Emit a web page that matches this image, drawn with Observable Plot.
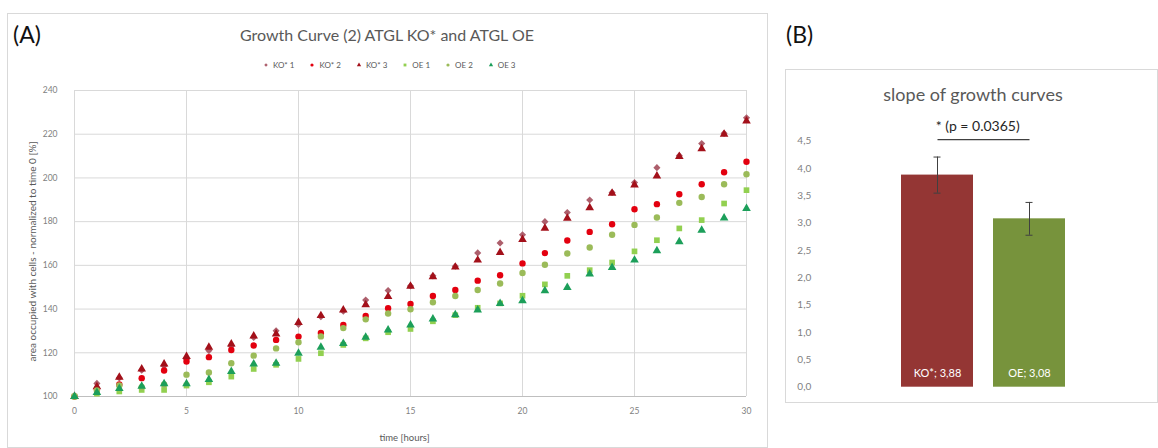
<!DOCTYPE html>
<html>
<head>
<meta charset="utf-8">
<script src="https://cdn.jsdelivr.net/npm/d3@7"></script>
<script src="https://cdn.jsdelivr.net/npm/@observablehq/plot@0.6"></script>
<style>
  html, body { margin: 0; padding: 0; background: #fff; }
  #root { position: relative; width: 1158px; height: 448px; overflow: hidden; background: #fff; font-family: Lato, "Open Sans", sans-serif; }
  .box { position: absolute; border: 1px solid #d9d9d9; box-sizing: border-box; }
  .panel { position: absolute; font-size: 23px; color: #111; line-height: 1; }
  .ttl { position: absolute; color: #595959; white-space: nowrap; transform: translateX(-50%); line-height: 1; }
  .lg-swatch { margin-right: 14px !important; }
  .lg-swatch > svg { margin-right: 3px !important; }
</style>
</head>
<body>
<div id="root">
  <div class="box" style="left:7px;top:13px;width:761px;height:435px;"></div>
  <div class="box" style="left:785px;top:69px;width:373px;height:334px;"></div>
  <div class="panel" style="left:13px;top:23px;">(A)</div>
  <div class="panel" style="left:786px;top:23px;">(B)</div>
  <div class="ttl" id="titleA" style="left:387px;top:27px;font-size:16px;"></div>
  <div class="ttl" id="titleB" style="left:973px;top:85px;font-size:18px;"></div>
</div>
<script>
// ---------- Panel A data ----------
const titleA = "Growth Curve (2) ATGL KO* and ATGL OE";
const xTitle = "time [hours]";
const yTitle = "area occupied with cells - normalized to time 0 [%]";
const hours = [0,1,2,3,4,5,6,7,8,9,10,11,12,13,14,15,16,17,18,19,20,21,22,23,24,25,26,27,28,29,30];
const xTicks = [0,5,10,15,20,25,30];
const yTicks = [100,120,140,160,180,200,220,240];
const seriesNames = ["KO* 1","KO* 2","KO* 3","OE 1","OE 2","OE 3"];
const seriesColors = ["#ad5f6c","#e3000f","#a3101a","#92d050","#9bbb59","#1c9f5a"];
const seriesSymbols = ["diamond2","circle","triangle","square","circle","triangle"];
const ko1 = [100,106,108.5,112,114,117,121,123,127,130.1,133,136.5,139,144.1,148.5,150.6,155.2,159.6,165.7,170.2,174,180,184.2,189.9,193.3,197.9,204.7,210.2,215.7,220.4,227.5];
const ko2 = [100,103.5,105.5,108.4,111.9,116,118,121.3,123.3,125.9,127.4,129.1,132.7,136.8,140.4,142.3,146,148.7,153,155.5,160.9,165.6,171.4,175.3,178.8,185.7,188,192.5,197.1,202.6,207.4];
const ko3 = [100,104.5,108.8,112.6,114.9,118.3,122.5,124,127.7,128.6,133.9,137,139.6,142,145.7,150.4,154.8,159.2,162.4,165.9,171.8,177,181.6,186.4,193,196.8,200.9,209.8,213.4,220,226];
const oe1 = [100,101.3,102.3,103,103,105,106.5,109.1,112.6,114.5,117.2,119.8,123.6,126.6,129.4,130.9,134.4,137.2,140.6,142.6,146.1,151.3,155.2,157.8,161.3,166.4,171.5,176.9,180.7,188.3,194.4];
const oe2 = [100,102.8,105,104.3,105.5,110,111,115.2,118.7,122,124.8,127.5,131.3,135.3,138,139.9,143.1,146,148.7,151.7,156.5,160.3,165.4,168.2,174,178.5,181.9,188.6,191.3,197.1,201.7];
const oe3 = [100,101.8,103.6,104.7,105.8,105.8,107.8,111.4,114.9,115.2,119.8,122.5,124.3,127.1,130.4,132.7,135.5,137.4,139.6,142.6,143.8,148.4,149.9,156,159,162.4,166.7,170.8,176.1,181.7,186];

// ---------- Panel B data ----------
const titleB = "slope of growth curves";
const groups = ["KO*","OE"];
const slopes = [3.88, 3.08];
const slopeErr = [0.33, 0.30];
const groupColors = ["#943634","#77933c"];
const barLabels = ["KO*; 3,88","OE; 3,08"];
const bTicks = [0,0.5,1,1.5,2,2.5,3,3.5,4,4.5];
const sigText = "* (p = 0.0365)";
const sigLevel = 4.53;

const FONT = "Lato, 'Open Sans', sans-serif";
document.getElementById("titleA").textContent = titleA;
document.getElementById("titleB").textContent = titleB;

const allSeries = [ko1, ko2, ko3, oe1, oe2, oe3];
const rows = seriesNames.flatMap((s, k) => allSeries[k].map((v, i) => ({time: hours[i], value: v, series: s})));

const chartA = Plot.plot({
  width: 770, height: 448,
  marginLeft: 74, marginRight: 24, marginTop: 90, marginBottom: 52,
  style: {fontFamily: FONT, background: "transparent", overflow: "visible"},
  x: {domain: [0, 30]},
  y: {domain: [100, 240]},
  color: {domain: seriesNames, range: seriesColors},
  symbol: {domain: seriesNames, range: seriesSymbols},
  marks: [
    Plot.gridX(xTicks, {stroke: "#d9d9d9", strokeOpacity: 1}),
    Plot.gridY(yTicks, {stroke: "#d9d9d9", strokeOpacity: 1}),
    Plot.ruleY([100], {stroke: "#bfbfbf"}),
    Plot.axisX(xTicks, {tickSize: 0, tickPadding: 11, fontSize: 8.5, color: "#7f7f7f", label: null}),
    Plot.axisY(yTicks, {tickSize: 0, tickPadding: 17, fontSize: 8.5, color: "#7f7f7f", label: null}),
    Plot.dot(rows, {x: "time", y: "value", fill: "series", symbol: "series", r: 3.2}),
    Plot.text([xTitle], {frameAnchor: "bottom", lineAnchor: "middle", dy: 41, dx: -6, fontSize: 9.5, fill: "#595959"}),
    Plot.text([yTitle], {frameAnchor: "left", textAnchor: "middle", lineAnchor: "middle", rotate: -90, dx: -42, dy: 8, fontSize: 10, fill: "#595959"})
  ]
});
chartA.style.position = "absolute";
chartA.style.left = "0px";
chartA.style.top = "0px";
document.getElementById("root").appendChild(chartA);

const leg = chartA.legend("symbol", {className: "lg", swatchSize: 8, r: 3.2, style: {fontSize: "8px", fontFamily: FONT, color: "#595959", minHeight: "0", margin: "0"}});
leg.style.position = "absolute";
leg.style.left = "262px";
leg.style.top = "60px";
document.getElementById("root").appendChild(leg);

// ---------- Panel B ----------
const bars = groups.map((g, i) => ({group: g, slope: slopes[i], lo: slopes[i] - slopeErr[i], hi: slopes[i] + slopeErr[i], label: barLabels[i]}));
const sig = [{from: groups[0], to: groups[1], y: sigLevel, text: sigText}];

const chartB = Plot.plot({
  width: 373, height: 333,
  marginLeft: 115.7, marginRight: 92.3, marginTop: 71.7, marginBottom: 15.3,
  style: {fontFamily: FONT, background: "transparent", overflow: "visible"},
  x: {type: "band", domain: groups, paddingInner: 0.213, paddingOuter: 0, axis: null},
  y: {domain: [0, 4.5], axis: null},
  color: {domain: groups, range: groupColors},
  marks: [
    Plot.axisY(bTicks, {tickSize: 0, tickPadding: 90, fontSize: 10, color: "#7f7f7f", label: null, tickFormat: d => d.toFixed(1).replace(".", ",")}),
    Plot.barY(bars, {x: "group", y: "slope", fill: "group"}),
    Plot.ruleX(bars, {x: "group", y1: "lo", y2: "hi", stroke: "#404040", strokeWidth: 1}),
    Plot.tickY(bars, {x: "group", y: "hi", stroke: "#404040", insetLeft: 32.5, insetRight: 32.5}),
    Plot.tickY(bars, {x: "group", y: "lo", stroke: "#404040", insetLeft: 32.5, insetRight: 32.5}),
    Plot.text(bars, {x: "group", y: 0, text: "label", dy: -14, fill: "white", fontSize: 11}),
    Plot.link(sig, {x1: "from", x2: "to", y1: "y", y2: "y", stroke: "#404040", strokeWidth: 1.3}),
    Plot.text(sig, {frameAnchor: "top", lineAnchor: "middle", text: "text", dy: -15, dx: -6, fontSize: 14, fill: "#262626"})
  ]
});
chartB.style.position = "absolute";
chartB.style.left = "785px";
chartB.style.top = "69px";
document.getElementById("root").appendChild(chartB);
</script>
</body>
</html>
